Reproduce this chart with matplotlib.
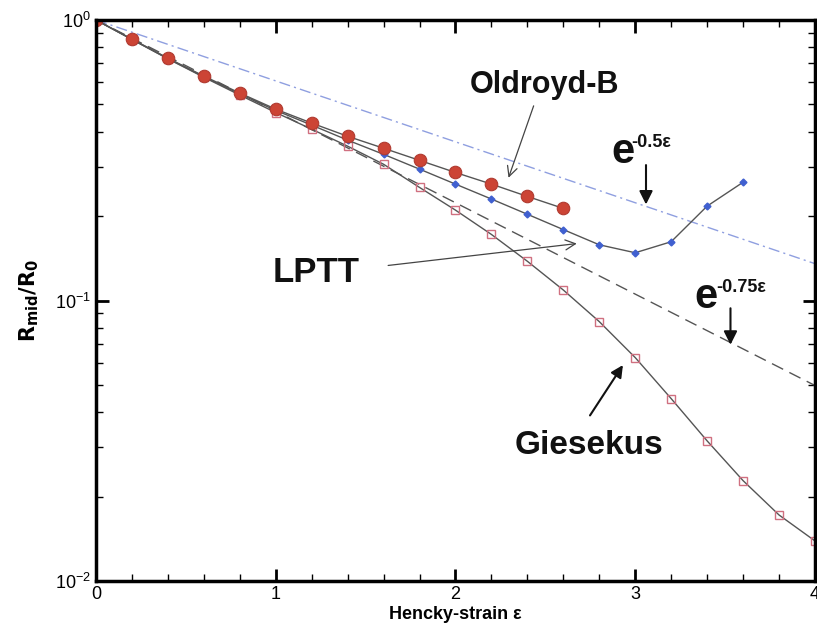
import numpy as np
import matplotlib.pyplot as plt
from matplotlib.ticker import LogLocator, NullFormatter, MultipleLocator

plt.rcParams['font.family'] = ['Liberation Sans', 'DejaVu Sans']

# Hencky strain sampling
eps_oldb = [0.0, 0.2, 0.4, 0.6, 0.8, 1.0, 1.2, 1.4, 1.6, 1.8, 2.0, 2.2, 2.4, 2.6]
r_oldb = [1.0, 0.855, 0.731, 0.631, 0.549, 0.481, 0.429, 0.385, 0.349, 0.316,
          0.286, 0.260, 0.235, 0.213]

eps_lptt = [0.0, 0.2, 0.4, 0.6, 0.8, 1.0, 1.2, 1.4, 1.6, 1.8, 2.0, 2.2, 2.4, 2.6,
            2.8, 3.0, 3.2, 3.4, 3.6]
r_lptt = [1.0, 0.853, 0.729, 0.628, 0.545, 0.476, 0.422, 0.373, 0.332, 0.294,
          0.260, 0.230, 0.203, 0.179, 0.158, 0.148, 0.162, 0.217, 0.264]

eps_gies = [0.0, 0.2, 0.4, 0.6, 0.8, 1.0, 1.2, 1.4, 1.6, 1.8, 2.0, 2.2, 2.4, 2.6,
            2.8, 3.0, 3.2, 3.4, 3.6, 3.8, 4.0]
r_gies = [1.0, 0.852, 0.727, 0.625, 0.540, 0.468, 0.408, 0.355, 0.306, 0.253,
          0.210, 0.172, 0.138, 0.109, 0.0841, 0.0626, 0.0447, 0.0316, 0.0228,
          0.0172, 0.0139]

eps_ref = [0.0, 4.0]
rate_slow = -0.5
rate_fast = -0.75

fig = plt.figure(figsize=(8.17, 6.35), dpi=100)
ax = fig.add_axes([0.1175, 0.085, 0.88, 0.8835])

e = np.array(eps_ref)
ax.plot(e, np.exp(rate_slow * e), color='#8f9fe0', lw=1.0, ls=(0, (8, 3, 1.5, 3)))
ax.plot(e, np.exp(rate_fast * e), color='#555555', lw=1.0, ls=(0, (9, 5)))

ax.plot(eps_gies, r_gies, color='#555555', lw=1.0, marker='s', ms=6,
        mfc='none', mec='#d07080', mew=1.0)
ax.plot(eps_lptt, r_lptt, color='#555555', lw=1.0, marker='D', ms=3.5,
        mfc='#4060d0', mec='#4060d0')
ax.plot(eps_oldb, r_oldb, color='#555555', lw=1.0, marker='o', ms=9,
        mfc='#cc4435', mec='#b03a30', mew=0.8)

ax.set_yscale('log')
ax.set_xlim(0, 4)
ax.set_ylim(1e-2, 1e0)
ax.xaxis.set_major_locator(MultipleLocator(1))
ax.xaxis.set_minor_locator(MultipleLocator(0.2))
ax.yaxis.set_major_locator(LogLocator(base=10, numticks=5))
ax.yaxis.set_minor_locator(LogLocator(base=10, subs=np.arange(2, 10), numticks=20))
ax.yaxis.set_minor_formatter(NullFormatter())
ax.tick_params(which='both', direction='in', top=True, right=True, labelsize=13)
ax.tick_params(which='major', length=9, width=2)
ax.tick_params(which='minor', length=5, width=1)
for s in ax.spines.values():
    s.set_linewidth(2.5)

ax.set_xlabel('Hencky-strain \u03b5', fontsize=13, fontweight='bold', labelpad=2)
ax.set_ylabel(r'$\mathbf{R_{mid}/R_0}$', fontsize=15, labelpad=10)

dark = '#111111'
ax.text(2.08, 0.548, 'Oldroyd-B', fontsize=22, fontweight='bold', color=dark)
ax.annotate('', xy=(2.29, 0.268), xytext=(2.44, 0.505),
            arrowprops=dict(arrowstyle='->', color='#444444', lw=0.9, mutation_scale=18))
ax.text(0.98, 0.116, 'LPTT', fontsize=25, fontweight='bold', color=dark)
ax.annotate('', xy=(2.69, 0.160), xytext=(1.61, 0.133),
            arrowprops=dict(arrowstyle='->', color='#444444', lw=0.9, mutation_scale=18))
ax.text(2.33, 0.0284, 'Giesekus', fontsize=24, fontweight='bold', color=dark)
ax.annotate('', xy=(2.94, 0.060), xytext=(2.74, 0.0382),
            arrowprops=dict(arrowstyle='-|>', color=dark, lw=1.5, mutation_scale=18))

# exponential guide labels
ax.text(2.87, 0.308, 'e', fontsize=30, fontweight='bold', color=dark)
ax.text(2.98, 0.352, '-0.5\u03b5', fontsize=13, fontweight='bold', color=dark)
ax.annotate('', xy=(3.06, 0.215), xytext=(3.06, 0.311),
            arrowprops=dict(arrowstyle='-|>', color=dark, lw=1.5, mutation_scale=20))
ax.text(3.33, 0.0944, 'e', fontsize=30, fontweight='bold', color=dark)
ax.text(3.45, 0.107, '-0.75\u03b5', fontsize=13, fontweight='bold', color=dark)
ax.annotate('', xy=(3.53, 0.068), xytext=(3.53, 0.096),
            arrowprops=dict(arrowstyle='-|>', color=dark, lw=1.5, mutation_scale=20))

fig.savefig('out.png', dpi=100)
